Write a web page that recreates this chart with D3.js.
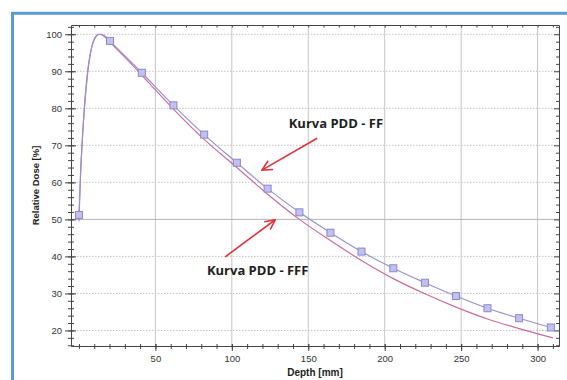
<!DOCTYPE html>
<html>
<head>
<meta charset="utf-8">
<script src="https://cdn.jsdelivr.net/npm/d3@7"></script>
<style>
  body { margin: 0; background: #fff; }
  svg { display: block; }
</style>
</head>
<body>
<svg id="chart" width="567" height="380"></svg>
<script>
// PDD curves, depth in mm, relative dose in %
const ffDepth = [0, 0.5, 1, 2, 3, 4, 5, 6, 7, 8, 9, 10, 11, 12, 13, 14, 16, 18, 20.3, 41.1, 61.8, 81.9, 103.3, 123.4, 144.2, 164.5, 184.8, 205.6, 226.3, 246.6, 267.2, 287.9, 308.7, 310];
const ffDose  = [51.2, 56.5, 62, 70, 76.5, 82, 86.5, 90.5, 93.5, 95.8, 97.4, 98.5, 99.3, 99.75, 99.95, 100, 99.8, 99.2, 98.2, 89.6, 80.8, 72.9, 65.3, 58.3, 51.9, 46.4, 41.3, 36.8, 32.9, 29.3, 26.0, 23.3, 20.8, 20.65];

const fffDepth = [0, 0.5, 1, 2, 3, 4, 5, 6, 7, 8, 9, 10, 11, 12, 13, 14, 16, 18, 20, 30, 41, 50, 61.8, 81.9, 103.3, 123.4, 144.2, 164.5, 184.8, 205.6, 226.3, 246.6, 267.2, 287.9, 310];
const fffDose  = [49.5, 55.5, 61.5, 70, 77, 82.8, 87.3, 91, 93.8, 96, 97.6, 98.7, 99.4, 99.85, 100, 99.95, 99.6, 98.9, 98.0, 93.8, 89.0, 85.0, 79.8, 71.6, 64.0, 56.8, 50.0, 44.3, 38.9, 34.0, 29.9, 26.3, 23.1, 20.5, 18.0];

// square markers on the FF curve
const markerDepth = [0, 20.3, 41.1, 61.8, 81.9, 103.3, 123.4, 144.2, 164.5, 184.8, 205.6, 226.3, 246.6, 267.2, 287.9, 308.7];
const markerDose  = [51.2, 98.2, 89.6, 80.8, 72.9, 65.3, 58.3, 51.9, 46.4, 41.3, 36.8, 32.9, 29.3, 26.0, 23.3, 20.8];

const xTicks = [50, 100, 150, 200, 250, 300];
const xMinor = d3.range(0, 311, 10);
const yTicks = [20, 30, 40, 50, 60, 70, 80, 90, 100];
const yMinor = d3.range(16, 103, 2);

// annotations: label, text anchor (depth, dose), arrow tail, arrow tip
const labels = ['Kurva PDD - FF', 'Kurva PDD - FFF'];
const labelAt = [[137.2, 74.6], [83.7, 35.1]];
const arrowFrom = [[155.8, 71.9], [95.7, 39.9]];
const arrowTo = [[119.7, 63.3], [128.4, 49.9]];

const svg = d3.select('#chart');
const L = 71, R = 559, T = 25, B = 346;

const x = d3.scaleLinear().domain([-5.2, 314]).range([L, R]);
const y = d3.scaleLinear().domain([15.8, 102.5]).range([B, T]);

// outer blue frame
svg.append('rect')
  .attr('x', 12.5).attr('y', 13.3)
  .attr('width', 600).attr('height', 400)
  .attr('fill', '#fff')
  .attr('stroke', '#5b9bd5').attr('stroke-width', 3);

// grid
svg.append('g').selectAll('line').data(xTicks).join('line')
  .attr('x1', d => x(d)).attr('x2', d => x(d))
  .attr('y1', T).attr('y2', B)
  .attr('stroke', '#c6c6c6').attr('stroke-width', 1);

svg.append('g').selectAll('line').data(yTicks).join('line')
  .attr('x1', L).attr('x2', R)
  .attr('y1', d => y(d)).attr('y2', d => y(d))
  .attr('stroke', d => d === 50 ? '#b4b4b4' : '#c4c4c4')
  .attr('stroke-dasharray', d => d === 50 ? null : '1.5,1.5')
  .attr('stroke-width', 1);

// axes
const axisColor = '#444';
function styleAxis(g) {
  g.select('.domain').attr('stroke', axisColor);
  g.selectAll('.tick line').attr('stroke', axisColor);
  g.selectAll('.tick text').attr('fill', '#333')
    .style('font-family', 'Liberation Sans, Arial, sans-serif').style('font-size', '9.5px');
}

// top and right frame with inward ticks
svg.append('g').attr('transform', `translate(0,${T})`)
  .call(d3.axisTop(x).tickValues(xMinor).tickSize(-2.5).tickFormat('').tickSizeOuter(0))
  .call(styleAxis);
svg.append('g').attr('transform', `translate(${R},0)`)
  .call(d3.axisRight(y).tickValues(yMinor).tickSize(-3).tickFormat('').tickSizeOuter(0))
  .call(styleAxis)
  .call(g => g.selectAll('.tick line').filter(d => d % 10 === 0).attr('x2', -5));

// left axis: crossing ticks
svg.append('g').attr('transform', `translate(${L},0)`)
  .call(d3.axisLeft(y).tickValues(yMinor).tickSize(3).tickFormat('').tickSizeOuter(0))
  .call(styleAxis)
  .call(g => g.selectAll('.tick line').attr('x1', 3));
svg.append('g').attr('transform', `translate(${L},0)`)
  .call(d3.axisLeft(y).tickValues(yTicks).tickSize(6).tickPadding(3).tickSizeOuter(0))
  .call(styleAxis)
  .call(g => g.select('.domain').remove())
  .call(g => g.selectAll('.tick line').attr('x1', 5));

// bottom axis: crossing ticks
svg.append('g').attr('transform', `translate(0,${B})`)
  .call(d3.axisBottom(x).tickValues(xMinor).tickSize(3).tickFormat('').tickSizeOuter(0))
  .call(styleAxis)
  .call(g => g.selectAll('.tick line').attr('y1', -2));
svg.append('g').attr('transform', `translate(0,${B})`)
  .call(d3.axisBottom(x).tickValues(xTicks).tickSize(5).tickPadding(4).tickSizeOuter(0))
  .call(styleAxis)
  .call(g => g.select('.domain').remove())
  .call(g => g.selectAll('.tick line').attr('y1', -2));

// axis titles
svg.append('text')
  .attr('transform', `translate(39,${(T + B) / 2}) rotate(-90)`)
  .attr('text-anchor', 'middle')
  .style('font-family', 'Liberation Sans, Arial, sans-serif')
  .style('font-size', '9.5px').style('font-weight', 'bold').attr('fill', '#222')
  .text('Relative Dose [%]');
svg.append('text')
  .attr('x', (L + R) / 2).attr('y', 376)
  .attr('text-anchor', 'middle')
  .style('font-family', 'Liberation Sans, Arial, sans-serif')
  .style('font-size', '10px').style('font-weight', 'bold').attr('fill', '#222')
  .text('Depth [mm]');

// curves
const line = d3.line().x(d => x(d[0])).y(d => y(d[1])).curve(d3.curveMonotoneX);
svg.append('clipPath').attr('id', 'plot')
  .append('rect').attr('x', L).attr('y', T).attr('width', R - L).attr('height', B - T);

svg.append('path')
  .datum(d3.zip(fffDepth, fffDose))
  .attr('d', line)
  .attr('fill', 'none').attr('stroke', '#cc6a9c').attr('stroke-width', 1.15)
  .attr('clip-path', 'url(#plot)');
svg.append('path')
  .datum(d3.zip(ffDepth, ffDose))
  .attr('d', line)
  .attr('fill', 'none').attr('stroke', '#9391d4').attr('stroke-width', 1.15)
  .attr('clip-path', 'url(#plot)');

svg.append('g').selectAll('rect').data(d3.zip(markerDepth, markerDose)).join('rect')
  .attr('x', d => x(d[0]) - 3.5).attr('y', d => y(d[1]) - 3.5)
  .attr('width', 7).attr('height', 7)
  .attr('fill', '#c2c0ee').attr('stroke', '#8a88cf').attr('stroke-width', 1);

// annotations
svg.append('defs').append('marker')
  .attr('id', 'head').attr('viewBox', '0 0 12 12')
  .attr('refX', 11).attr('refY', 6)
  .attr('markerWidth', 12).attr('markerHeight', 12)
  .attr('markerUnits', 'userSpaceOnUse').attr('orient', 'auto')
  .append('path').attr('d', 'M1,1 L11,6 L1,11')
  .attr('fill', 'none').attr('stroke', '#e0333a').attr('stroke-width', 1.6);

svg.append('g').selectAll('line').data(d3.range(arrowFrom.length)).join('line')
  .attr('x1', i => x(arrowFrom[i][0])).attr('y1', i => y(arrowFrom[i][1]))
  .attr('x2', i => x(arrowTo[i][0])).attr('y2', i => y(arrowTo[i][1]))
  .attr('stroke', '#e0333a').attr('stroke-width', 1.6)
  .attr('marker-end', 'url(#head)');

svg.append('g').selectAll('text').data(labels).join('text')
  .attr('x', (d, i) => x(labelAt[i][0])).attr('y', (d, i) => y(labelAt[i][1]))
  .style('font-family', 'Open Sans, sans-serif')
  .style('font-size', '13px').style('font-weight', 'bold').attr('fill', '#1e1e1e')
  .text(d => d);
</script>
</body>
</html>
